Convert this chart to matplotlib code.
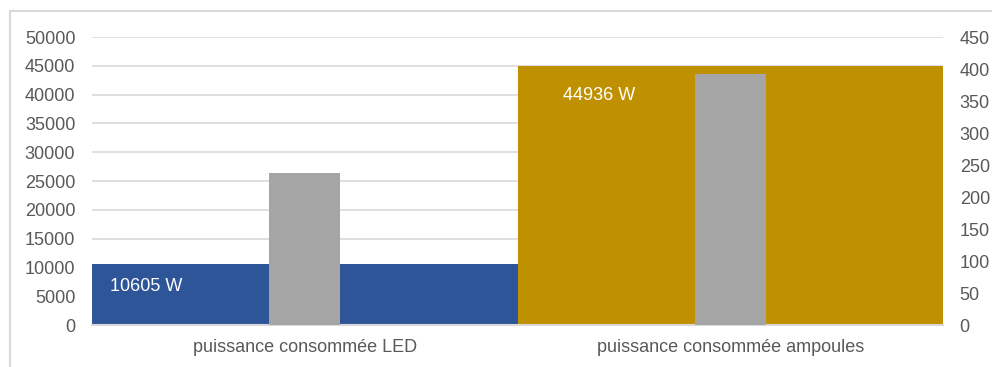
"""
Puissance consommée LED vs ampoules, two y axes.
"""

import numpy as np
import matplotlib.pyplot as plt
from matplotlib.patches import Rectangle

categories = ["puissance consommée LED", "puissance consommée ampoules"]
power_w = [10605, 44936]
second_series = [237, 392]
bar_labels = ["10605 W", "44936 W"]
label_y = [6600, 39800]

left_ticks = list(range(0, 50001, 5000))
right_ticks = list(range(0, 451, 50))

W, H = 992, 367
fig = plt.figure(figsize=(W / 100, H / 100), dpi=100)
plt.rcParams['font.family'] = ['Liberation Sans', 'DejaVu Sans']

# light frame around the chart area
fig.patches.append(Rectangle((10 / W, -0.1), 1.1, 1 - 11 / H + 0.1,
                             transform=fig.transFigure, fill=False,
                             edgecolor='#d9d9d9', linewidth=1.5))

ax = fig.add_axes([92 / W, 1 - 325 / H, (943 - 92) / W, (325 - 37) / H])
ax2 = ax.twinx()

x = np.arange(len(categories))
colors = ['#2e5597', '#bf9000']
ax.bar(x, power_w, width=1.0, color=colors, zorder=2)
ax.set_xlim(-0.5, 1.5)
ax.set_ylim(0, 50000)
ax.set_yticks(left_ticks)
ax.grid(axis='y', color='#d9d9d9', linewidth=1.2, zorder=0)
ax.set_axisbelow(True)

# offset of each label from the left edge of its bar (fraction of category)
label_dx = [0.042, 0.106]
for i, lab in enumerate(bar_labels):
    ax.text(x[i] - 0.5 + label_dx[i], label_y[i], lab, color='white',
            fontsize=13, ha='left', va='center', zorder=5)

ax2.bar(x, second_series, width=0.167, color='#a5a5a5', zorder=3)
ax2.set_ylim(0, 450)
ax2.set_yticks(right_ticks)

ax.set_xticks(x)
ax.set_xticklabels(categories)

for a in (ax, ax2):
    for s in a.spines.values():
        s.set_visible(False)
    a.tick_params(length=0, labelsize=13, colors='#595959')
ax.tick_params(axis='y', pad=12)
ax.tick_params(axis='x', pad=10)
ax2.tick_params(axis='y', pad=12)
ax.spines['bottom'].set_visible(True)
ax.spines['bottom'].set_color('#d9d9d9')
ax.spines['bottom'].set_linewidth(1.5)

fig.savefig("out.png", dpi=100)
